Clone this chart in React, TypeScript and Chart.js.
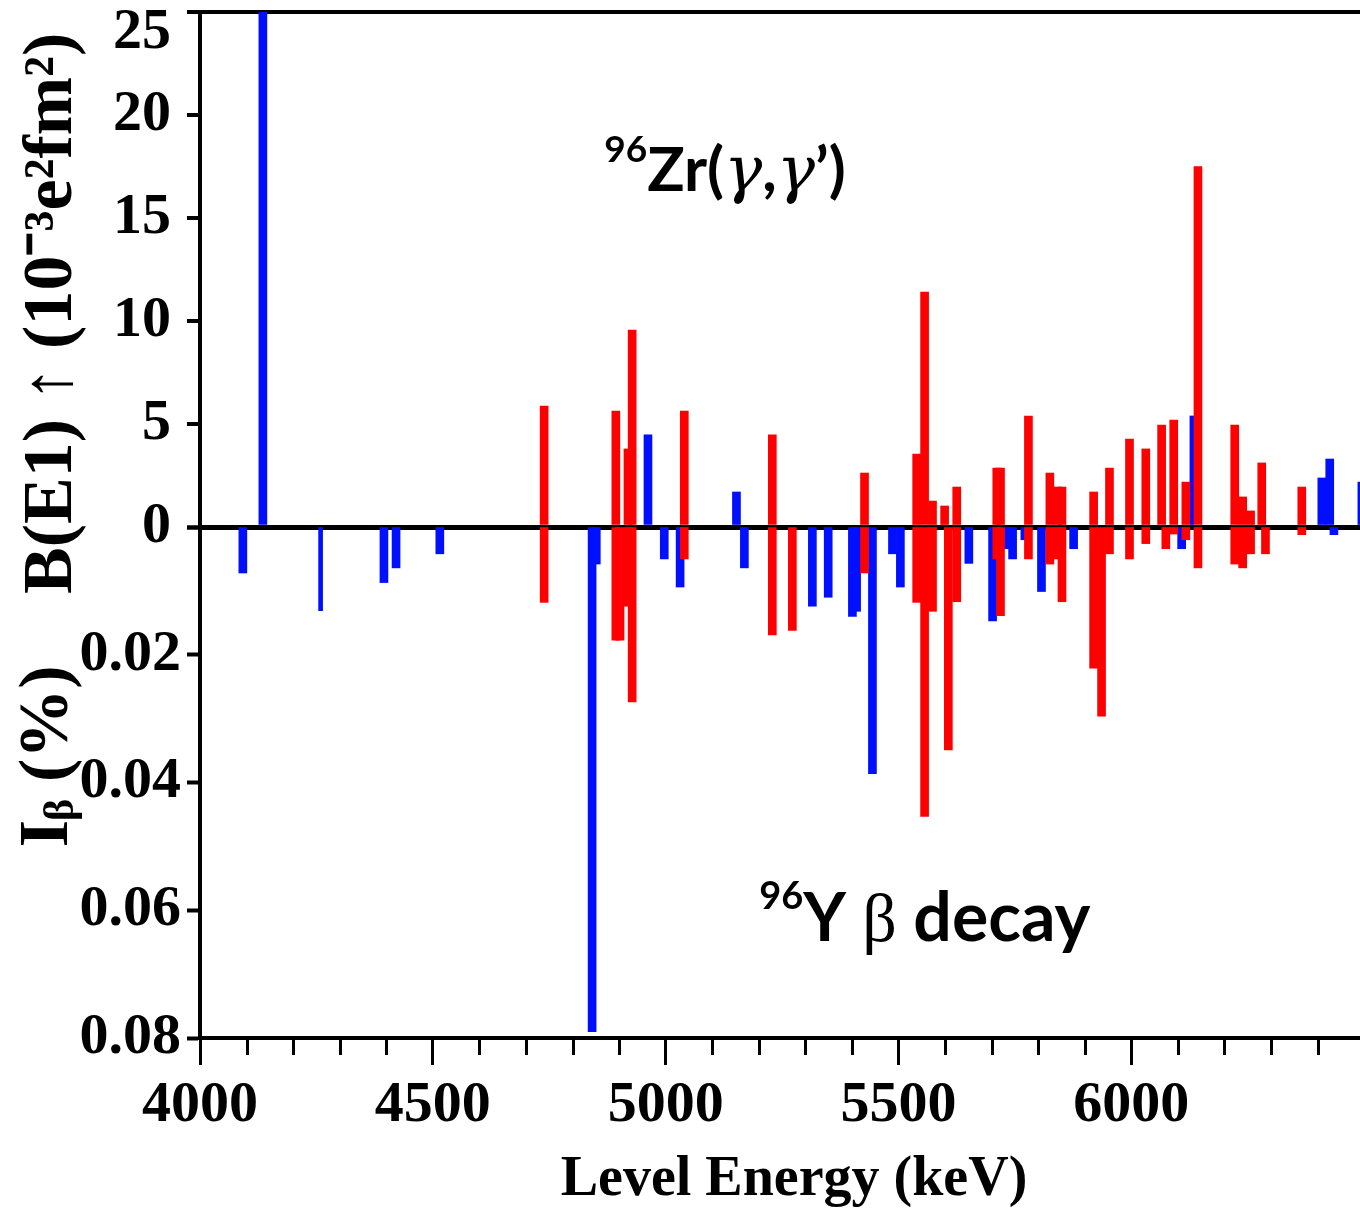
import { useEffect, useRef } from 'react';
import { Chart, registerables } from 'chart.js';

Chart.register(...registerables);

// ---- Data -------------------------------------------------------------
// Upper panel: 96Zr(γ,γ') B(E1)↑ in 10^-3 e^2 fm^2, by level energy (keV)
const upperRedEnergy = [4739, 4893, 4919, 4928, 5040, 5229, 5427, 5539, 5556, 5573, 5599, 5625, 5711, 5719, 5779, 5825, 5842, 5851, 5919, 5953, 5996, 6031, 6065, 6091, 6117, 6143, 6222, 6239, 6256, 6280, 6366];
const upperRedValue = [5.87, 5.63, 3.79, 9.56, 5.63, 4.47, 2.62, 3.54, 11.4, 1.26, 1.02, 1.94, 2.86, 2.86, 5.39, 2.62, 1.94, 1.94, 1.7, 2.86, 4.27, 3.79, 4.95, 5.19, 2.18, 17.5, 4.95, 1.46, 0.78, 3.11, 1.94];
const upperBlueEnergy = [4135, 4962, 5152, 6409, 6426, 6495];
const upperBlueValue = [28, 4.47, 1.7, 2.38, 3.3, 2.18];
const upperBlueThinEnergy = [6130];
const upperBlueThinValue = [5.39];

// Lower panel: 96Y β decay feeding Iβ (%), by level energy (keV)
const lowerRedEnergy = [4739, 4893, 4902, 4919, 4928, 5040, 5229, 5272, 5427, 5539, 5556, 5573, 5607, 5625, 5711, 5719, 5779, 5825, 5842, 5851, 5919, 5936, 5953, 5996, 6031, 6074, 6091, 6117, 6143, 6222, 6239, 6256, 6288, 6366];
const lowerRedValue = [0.0118, 0.0177, 0.0177, 0.0124, 0.0274, 0.005, 0.0169, 0.0162, 0.0072, 0.0118, 0.0453, 0.0132, 0.0349, 0.0117, 0.005, 0.0139, 0.005, 0.0058, 0.005, 0.0117, 0.0221, 0.0296, 0.0042, 0.005, 0.0026, 0.0034, 0.0011, 0.002, 0.0064, 0.0058, 0.0064, 0.0042, 0.0042, 0.0012];
const lowerBlueEnergy = [4092, 4395, 4421, 4515, 4842, 4851, 4997, 5031, 5169, 5315, 5349, 5401, 5410, 5444, 5487, 5504, 5651, 5702, 5736, 5745, 5807, 5876, 6108, 6435];
const lowerBlueValue = [0.0072, 0.0087, 0.0064, 0.0042, 0.079, 0.0058, 0.005, 0.0094, 0.0064, 0.0124, 0.011, 0.014, 0.0132, 0.0386, 0.0042, 0.0094, 0.0057, 0.0147, 0.0034, 0.005, 0.0101, 0.0034, 0.0034, 0.0012];
const lowerBlueThinEnergy = [4259, 5767];
const lowerBlueThinValue = [0.0131, 0.002];

// Axes and tick labels
const xMin = 4000;
const xMax = 6491;
const xTickValues = [4000, 4500, 5000, 5500, 6000];
const xMinorStep = 100;
const upperTickValues = [0, 5, 10, 15, 20, 25];
const upperMax = 25;
const lowerTickValues = [0, 0.02, 0.04, 0.06, 0.08];
const lowerMax = 0.08;

// ---- Styles -----------------------------------------------------------
const RED = '#ff0000';
const BLUE = '#0010ff';
const SERIF = '"Liberation Serif", "Times New Roman", serif';
const SANS = 'Lato, "Open Sans", sans-serif';
const GREEK = '"DejaVu Serif", serif';
const NB = '\u00A0';

const pts = (e: number[], v: number[]) => e.map((x, i) => ({ x, y: v[i] }));

type Part = { text: string; font: string; rise?: number };
const annotations: { axis: string; energy: number; value: number; parts: Part[] }[] = [
  {
    axis: 'yTop',
    energy: 4868,
    value: 16.3,
    parts: [
      { text: '96', font: `bold 37px ${SANS}`, rise: 29 },
      { text: 'Zr(', font: `bold 62px ${SANS}` },
      { text: 'γ', font: `italic 64px ${GREEK}` },
      { text: ',', font: `bold 62px ${SANS}` },
      { text: 'γ', font: `italic 64px ${GREEK}` },
      { text: '’)', font: `bold 62px ${SANS}` },
    ],
  },
  {
    axis: 'yBot',
    energy: 5201,
    value: 0.0648,
    parts: [
      { text: '96', font: `bold 38px ${SANS}`, rise: 32 },
      { text: 'Y ', font: `bold 66px ${SANS}` },
      { text: 'β', font: `68px ${SERIF}` },
      { text: ' decay', font: `bold 68px ${SANS}` },
    ],
  },
];

const extrasPlugin = {
  id: 'extras',
  afterDraw(chart: any) {
    const ctx = chart.ctx as CanvasRenderingContext2D;
    const xs = chart.scales.x;
    // minor x ticks
    ctx.save();
    ctx.strokeStyle = '#000';
    ctx.lineWidth = 3;
    for (let v = xMin; v <= xMax; v += xMinorStep) {
      if (xTickValues.includes(v) || v % 500 === 0) continue;
      const px = Math.round(xs.getPixelForValue(v)) + 0.5;
      ctx.beginPath();
      ctx.moveTo(px, xs.top);
      ctx.lineTo(px, xs.top + 17);
      ctx.stroke();
    }
    ctx.restore();
    // text annotations
    ctx.save();
    ctx.fillStyle = '#000';
    ctx.textBaseline = 'alphabetic';
    ctx.textAlign = 'left';
    for (const a of annotations) {
      let x = xs.getPixelForValue(a.energy);
      const y = chart.scales[a.axis].getPixelForValue(a.value);
      for (const p of a.parts) {
        ctx.font = p.font;
        ctx.fillText(p.text, x, y - (p.rise || 0));
        x += ctx.measureText(p.text).width;
      }
    }
    ctx.restore();
  },
};

const noPad = (s: any) => {
  s.paddingTop = 0;
  s.paddingBottom = 0;
  s.paddingLeft = 0;
  s.paddingRight = 0;
};
const setTicks = (vals: number[]) => (s: any) => {
  s.ticks = vals.map((value) => ({ value }));
};

export default function App() {
  const ref = useRef<HTMLCanvasElement>(null);

  useEffect(() => {
    document.body.style.margin = '0';
    const tickFont = { family: SERIF, weight: 'bold' as const, size: 58 };
    const chart = new Chart(ref.current!, {
      type: 'bar',
      data: {
        datasets: [
          { label: 'upper red', data: pts(upperRedEnergy, upperRedValue), yAxisID: 'yTop', backgroundColor: RED, barThickness: 8, order: 0 },
          { label: 'lower red', data: pts(lowerRedEnergy, lowerRedValue), yAxisID: 'yBot', backgroundColor: RED, barThickness: 8, order: 0 },
          { label: 'upper blue', data: pts(upperBlueEnergy, upperBlueValue), yAxisID: 'yTop', backgroundColor: BLUE, barThickness: 8, order: 1 },
          { label: 'upper blue thin', data: pts(upperBlueThinEnergy, upperBlueThinValue), yAxisID: 'yTop', backgroundColor: BLUE, barThickness: 4, order: 1 },
          { label: 'lower blue', data: pts(lowerBlueEnergy, lowerBlueValue), yAxisID: 'yBot', backgroundColor: BLUE, barThickness: 8, order: 1 },
          { label: 'lower blue thin', data: pts(lowerBlueThinEnergy, lowerBlueThinValue), yAxisID: 'yBot', backgroundColor: BLUE, barThickness: 4, order: 1 },
        ] as any,
      },
      options: {
        responsive: false,
        animation: false,
        events: [],
        layout: { padding: { top: 12, left: 0, right: 0, bottom: 0 } },
        datasets: { bar: { grouped: false, borderWidth: 0 } } as any,
        plugins: { legend: { display: false }, tooltip: { enabled: false }, title: { display: false } },
        scales: {
          x: {
            type: 'linear',
            position: 'bottom',
            min: xMin,
            max: xMax,
            offset: false,
            z: 1,
            afterBuildTicks: setTicks(xTickValues),
            afterFit: (s: any) => {
              s.height = 175;
              noPad(s);
            },
            ticks: {
              autoSkip: false,
              maxRotation: 0,
              padding: 12,
              color: '#000',
              font: { ...tickFont, lineHeight: 1 },
              callback: (v: any) => String(v),
            },
            grid: { display: true, offset: false, drawOnChartArea: false, drawTicks: true, tickLength: 27, tickWidth: 3, tickColor: '#000', color: '#000' },
            border: { display: true, width: 4, color: '#000' },
            title: {
              display: true,
              text: NB + NB + 'Level Energy (keV)',
              color: '#000',
              font: { family: SERIF, weight: 'bold', size: 56, lineHeight: 1 },
              padding: { top: 0, bottom: 4 },
            },
          },
          xTop: {
            type: 'linear',
            position: 'top',
            min: xMin,
            max: xMax,
            offset: false,
            z: 1,
            ticks: { display: false },
            grid: { display: false, offset: false, drawTicks: false },
            border: { display: true, width: 4, color: '#000' },
            afterFit: (s: any) => {
              s.height = 0;
              noPad(s);
            },
          },
          yBot: {
            type: 'linear',
            position: 'left',
            stack: 'panels',
            stackWeight: 511,
            min: 0,
            max: lowerMax,
            reverse: true,
            z: 1,
            afterBuildTicks: setTicks(lowerTickValues),
            afterFit: (s: any) => {
              s.width = 200;
              noPad(s);
            },
            ticks: {
              autoSkip: false,
              padding: 6,
              color: '#000',
              font: { ...tickFont, lineHeight: 1 },
              callback: (v: any) => (Number(v) === 0 ? '' : Number(v).toFixed(2)),
            },
            grid: { display: true, offset: false, drawOnChartArea: false, drawTicks: true, tickLength: 13, tickWidth: 4, tickColor: '#000', color: '#000' },
            border: { display: true, width: 4, color: '#000' },
            title: {
              display: true,
              text: NB + NB + NB + 'I\u1D66 (%)',
              color: '#000',
              font: { family: SERIF, weight: 'bold', size: 70, lineHeight: 1 },
              padding: { top: 14, bottom: 0 },
            },
          },
          yTop: {
            type: 'linear',
            position: 'left',
            stack: 'panels',
            stackWeight: 515,
            min: 0,
            max: upperMax,
            z: 1,
            afterBuildTicks: setTicks(upperTickValues),
            afterFit: (s: any) => {
              s.width = 200;
              noPad(s);
            },
            ticks: {
              autoSkip: false,
              padding: 16,
              color: '#000',
              font: { ...tickFont, lineHeight: 0.72 },
              callback: (v: any) => (Number(v) === upperMax ? ['', String(v)] : String(v)),
            },
            grid: {
              display: true,
              offset: false,
              drawOnChartArea: true,
              drawTicks: true,
              tickLength: 13,
              tickWidth: 4,
              tickColor: '#000',
              color: (c: any) => (c.tick && c.tick.value === 0 ? '#000' : 'rgba(0,0,0,0)'),
              lineWidth: (c: any) => (c.tick && c.tick.value === 0 ? 5 : 0),
            },
            border: { display: true, width: 4, color: '#000' },
            title: {
              display: true,
              text: 'B(E1) ↑ (10⁻³e²fm²)' + NB + NB + NB + NB + NB,
              color: '#000',
              font: { family: SERIF, weight: 'bold', size: 70, lineHeight: 1 },
              padding: { top: 18, bottom: 0 },
            },
          },
        } as any,
      },
      plugins: [extrasPlugin],
    });
    return () => chart.destroy();
  }, []);

  return (
    <div style={{ width: 1360, height: 1213 }}>
      <canvas ref={ref} width={1360} height={1213} style={{ display: 'block' }} />
    </div>
  );
}
